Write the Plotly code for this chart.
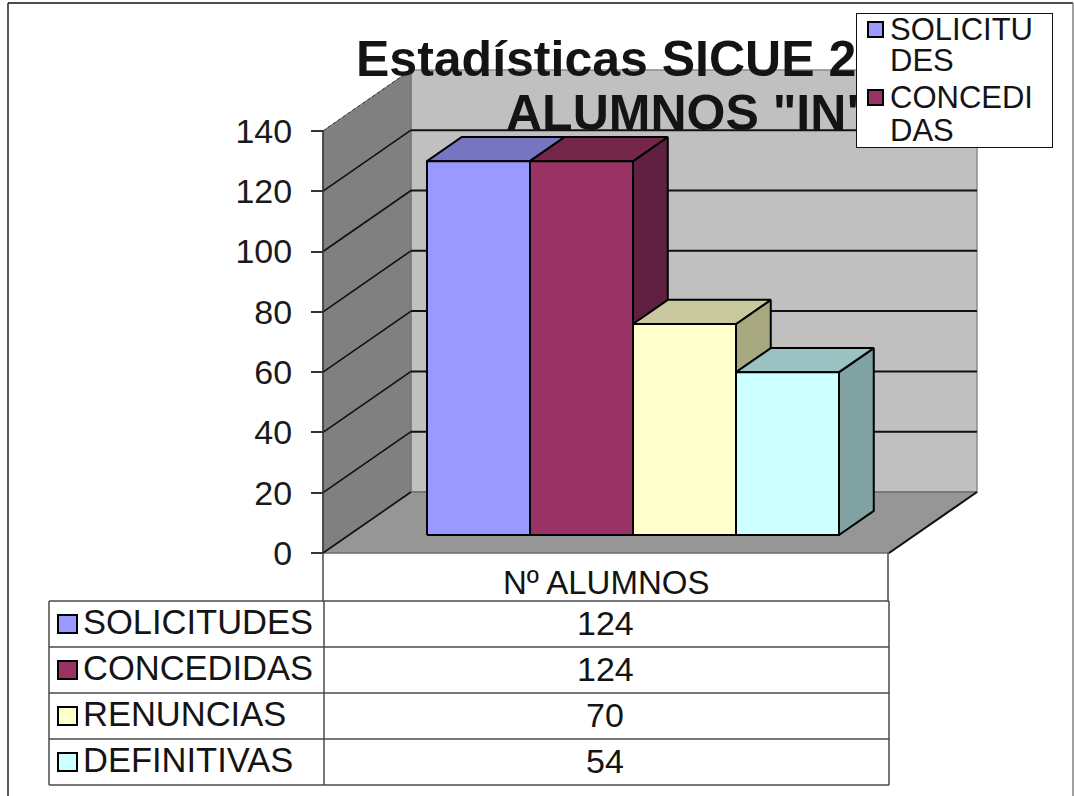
import plotly.graph_objects as go

categories = ["SOLICITUDES", "CONCEDIDAS", "RENUNCIAS", "DEFINITIVAS"]
values = [124, 124, 70, 54]
front_colors = ["#9999FF", "#993366", "#FFFFCC", "#CCFFFF"]
top_colors = ["#7575C2", "#742748", "#C9C99F", "#9AC2C2"]
side_colors = ["#62629F", "#60203F", "#A8A880", "#80A2A2"]
tick_values = [0, 20, 40, 60, 80, 100, 120, 140]
column_label = "Nº ALUMNOS"
legend_lines = ["SOLICITU", "DES", "CONCEDI", "DAS"]
title_lines = ["Estadísticas SICUE 2", 'ALUMNOS "IN"']

W, H = 1074, 796
FONT = "Liberation Sans"
PX_PER_UNIT = 3.015
Y0 = 553
ymin = (Y0 - H) / PX_PER_UNIT
ymax = Y0 / PX_PER_UNIT
DEPTH_Y = 61 / PX_PER_UNIT
DEPTH_X = 88
X_FRONT, X_RIGHT = 323, 889
BAR_X0, BAR_W = 427, 103
BAR_FRONT, BAR_BACK = 0.295, 0.69
TOP = 140


def poly(xs, ys, fill, line="#000000", lw=2):
    return go.Scatter(x=xs + xs[:1], y=ys + ys[:1], mode="lines", fill="toself", fillcolor=fill,
                      line=dict(color=line, width=lw), hoverinfo="skip", showlegend=False)


def seg(xs, ys, color="#000000", lw=1.5, dash=None):
    return go.Scatter(x=xs, y=ys, mode="lines", line=dict(color=color, width=lw, dash=dash),
                      hoverinfo="skip", showlegend=False)


fig = go.Figure()
xb0, xb1 = X_FRONT + DEPTH_X, X_RIGHT + DEPTH_X
# walls and floor
fig.add_trace(poly([xb0, xb1, xb1, xb0], [DEPTH_Y, DEPTH_Y, TOP + DEPTH_Y, TOP + DEPTH_Y], "#C0C0C0", "#8A8A8A", 1.5))
fig.add_trace(poly([X_FRONT, xb0, xb0, X_FRONT], [0, DEPTH_Y, TOP + DEPTH_Y, TOP], "#808080", "#6E6E6E", 1))
fig.add_trace(poly([X_FRONT, X_RIGHT, xb1, xb0], [0, 0, DEPTH_Y, DEPTH_Y], "#969696", "#6E6E6E", 1.5))
fig.add_trace(seg([X_RIGHT, xb1], [0, DEPTH_Y], "#111111", 2))
# gridlines
for t in tick_values[:-1]:
    if t > 0:
        fig.add_trace(seg([xb0, xb1], [t + DEPTH_Y, t + DEPTH_Y], "#111111", 2))
    fig.add_trace(seg([X_FRONT, xb0], [t, t + DEPTH_Y], "#111111", 1.6))
fig.add_trace(seg([X_FRONT, xb0], [TOP, TOP + DEPTH_Y], "#333333", 1, "dot"))

# bars
for i, (name, v) in enumerate(zip(categories, values)):
    x0 = BAR_X0 + i * BAR_W
    x1 = x0 + BAR_W
    base = BAR_FRONT * DEPTH_Y
    dy = (BAR_BACK - BAR_FRONT) * DEPTH_Y
    dx = (BAR_BACK - BAR_FRONT) * DEPTH_X
    fig.add_trace(poly([x1, x1 + dx, x1 + dx, x1], [base, base + dy, base + dy + v, base + v], side_colors[i]))
    fig.add_trace(poly([x0, x1, x1 + dx, x0 + dx], [base + v, base + v, base + dy + v, base + dy + v], top_colors[i]))
    fig.add_trace(go.Scatter(x=[x0, x1, x1, x0, x0], y=[base, base, base + v, base + v, base], mode="lines",
                             fill="toself", fillcolor=front_colors[i], line=dict(color="#000000", width=2),
                             name=name, text=[f"{name}: {v}"] * 5, hoverinfo="text", showlegend=False))

# value axis line
fig.add_trace(seg([X_FRONT, X_FRONT], [TOP, 0], "#333333", 1.5))


def P(px, py):
    return px / W, 1 - py / H


shapes, ann = [], []


def line(x0, y0, x1, y1, color="#4A4A4A", lw=1.5):
    a, b = P(x0, y0), P(x1, y1)
    shapes.append(dict(type="line", xref="paper", yref="paper", x0=a[0], y0=a[1], x1=b[0], y1=b[1],
                       line=dict(color=color, width=lw)))


def label(txt, px, py, size, anchor="left", bold=False):
    a = P(px, py)
    ann.append(dict(text=f"<b>{txt}</b>" if bold else txt, x=a[0], y=a[1], xref="paper", yref="paper",
                    xanchor=anchor, yanchor="middle", showarrow=False,
                    font=dict(family=FONT, size=size, color="#141414")))


def box(x0, y0, x1, y1, fill, border="#000000", bw=2):
    c = P((x0 + x1) / 2, (y0 + y1) / 2)
    ann.append(dict(text=" ", x=c[0], y=c[1], xref="paper", yref="paper", xanchor="center", yanchor="middle",
                    showarrow=False, width=x1 - x0 - 2 * bw, height=y1 - y0 - 2 * bw, bgcolor=fill,
                    bordercolor=border, borderwidth=bw, borderpad=0, font=dict(size=1)))


# frame
line(8, 3, 1073, 3, "#111111", 1.5)
line(8, 3, 8, 796, "#222222", 1.5)
line(1073, 3, 1073, 796, "#808080", 1.5)

# data table
ROWS = [601, 647, 693, 739, 785]
line(X_FRONT, 553, X_FRONT, 601)
line(888, 553, 888, 601)
for r in ROWS:
    line(49, r, 889, r)
line(49, 601, 49, 785)
line(324, 601, 324, 785)
line(889, 601, 889, 785)

# title then legend over it
label(title_lines[0], 354, 59, 50, bold=True)
label(title_lines[1], 504, 113, 50, bold=True)
box(856, 13, 1053, 148, "#FFFFFF", "#111111", 1)
ly = [29, 61, 97, 131]
for t, y in zip(legend_lines, ly):
    label(t, 888, y, 31)
box(867, 21, 884, 38, front_colors[0], "#000000", 2)
box(867, 89, 884, 106, front_colors[1], "#000000", 2)

label(column_label, 606, 582, 33, "center")
for i, (name, v) in enumerate(zip(categories, values)):
    cy = (ROWS[i] + ROWS[i + 1]) / 2
    label(name, 81, cy - 2, 34.5)
    label(str(v), 605, cy - 1, 34, "center")
    box(57, cy - 10, 78, cy + 10, front_colors[i], "#000000", 2)

fig.update_layout(
    width=W, height=H, margin=dict(l=0, r=0, t=0, b=0), paper_bgcolor="#FFFFFF", plot_bgcolor="#FFFFFF",
    showlegend=False, shapes=shapes, annotations=ann,
    xaxis=dict(range=[0, W], visible=False, fixedrange=True),
    yaxis=dict(range=[ymin, ymax], anchor="free", position=X_FRONT / W, side="left", tickmode="array",
               tickvals=tick_values, ticks="outside", ticklen=12, tickwidth=1.5, tickcolor="#333333",
               showgrid=False, zeroline=False, showline=False, ticklabelstandoff=12,
               tickfont=dict(family=FONT, size=34, color="#1A1A1A"), fixedrange=True),
)
fig.write_html("out.html", config=dict(displayModeBar=False),
               post_script="document.body.style.margin='0';document.body.style.overflow='hidden';")
